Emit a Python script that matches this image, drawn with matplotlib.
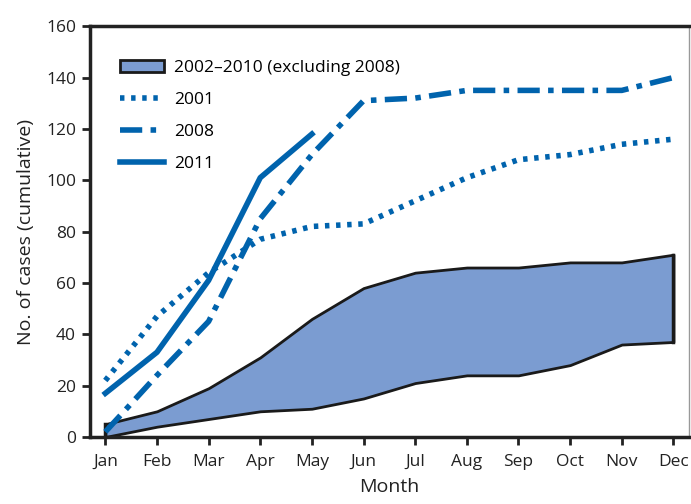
import numpy as np
import matplotlib.pyplot as plt

plt.rcParams['font.family'] = ['Open Sans', 'DejaVu Sans']

months = ['Jan', 'Feb', 'Mar', 'Apr', 'May', 'Jun', 'Jul', 'Aug', 'Sep', 'Oct', 'Nov', 'Dec']
band_low = [0, 4, 7, 10, 11, 15, 21, 24, 24, 28, 36, 37]
band_high = [5, 10, 19, 31, 46, 58, 64, 66, 66, 68, 68, 71]
y2001 = [22, 47, 64, 77, 82, 83, 92, 101, 108, 110, 114, 116]
y2008 = [2, 24, 45, 85, 110, 131, 132, 135, 135, 135, 135, 140]
y2011 = [17, 33, 61, 101, 118]

blue = '#0063ad'
fill = '#7b9cd1'

x = np.arange(len(months))

fig = plt.figure(figsize=(6.91, 5.04), dpi=100)
ax = fig.add_axes([0.130, 0.133, 0.867, 0.815])

ax.fill_between(x, band_low, band_high, facecolor=fill, edgecolor='#1a1a1a', linewidth=2,
                label='2002\u20132010 (excluding 2008)')
# close the band ends
ax.plot([x[-1], x[-1]], [band_low[-1], band_high[-1]], color='#1a1a1a', lw=2.5)
ax.plot([x[0], x[0]], [band_low[0], band_high[0]], color='#1a1a1a', lw=2.5)

ax.plot(x, y2001, color=blue, lw=4, linestyle=(0, (0.8, 1.2)), label='2001')
ax.plot(x, y2008, color=blue, lw=4, linestyle=(0, (4, 1.5, 1, 1.5)), label='2008')
ax.plot(x[:len(y2011)], y2011, color=blue, lw=4, label='2011')

ax.set_xlim(-0.3, 11.3)
ax.set_ylim(0, 160)
ax.set_xticks(x)
ax.set_xticklabels(months)
ax.set_yticks(range(0, 161, 20))
ax.tick_params(axis='both', labelsize=12.5, colors='#222222', width=2, length=6, direction='out')
ax.tick_params(axis='y', pad=4)
ax.tick_params(axis='x', pad=6)

for s in ['left', 'bottom', 'top']:
    ax.spines[s].set_linewidth(2.5)
    ax.spines[s].set_color('#222222')
ax.spines['right'].set_linewidth(1)
ax.spines['right'].set_color('#999999')

ax.set_xlabel('Month', fontsize=14, color='#222222', labelpad=6)
ax.set_ylabel('No. of cases (cumulative)', fontsize=14, color='#222222', labelpad=8)

leg = ax.legend(loc='upper left', bbox_to_anchor=(0.025, 0.955), frameon=False, fontsize=12.5,
                handlelength=2.5, labelspacing=0.9, handletextpad=0.6)

plt.savefig('out.png', dpi=100)
